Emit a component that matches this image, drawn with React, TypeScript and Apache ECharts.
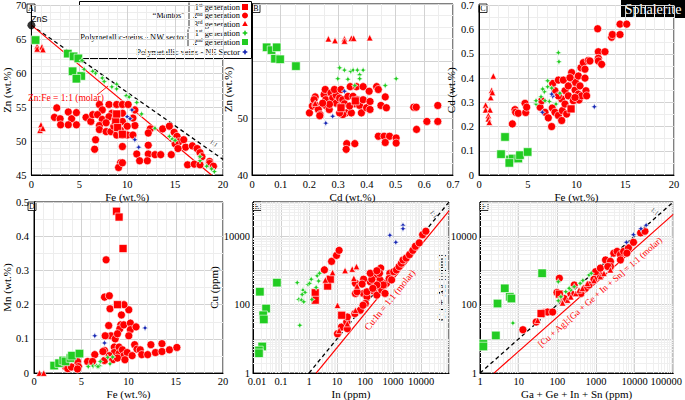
import React, { useEffect, useRef } from 'react';
import * as echarts from 'echarts';

// ---------- Panel A : Fe (wt.%) vs Zn (wt.%)
const A_m1 = [[8.8, 53.0], [9.0, 52.0], [9.5, 51.0], [8.9, 54.0]];
const A_m2 = [[2.4, 53.5], [2.65, 54.9], [3.0, 53.3], [3.05, 52.4], [3.85, 54.3], [4.2, 53.3], [3.85, 52.4], [4.7, 54.2], [4.7, 52.4], [5.7, 53.5], [6.2, 52.9], [6.4, 53.9], [7.1, 55.4], [8.1, 55.4], [8.9, 55.4], [9.5, 55.4], [10.1, 55.4], [7.4, 54.6], [6.9, 53.9], [7.4, 53.2], [7.1, 52.3], [7.1, 51.7], [7.8, 51.4], [8.3, 51.4], [8.9, 50.9], [9.5, 50.9], [10.0, 50.9], [10.6, 50.9], [10.8, 52.3], [10.6, 53.4], [10.8, 54.6], [9.5, 54.1], [8.4, 54.1], [8.1, 53.6], [8.8, 52.9], [9.5, 52.9], [10.0, 52.2], [9.3, 51.6], [8.6, 52.2], [7.8, 52.7], [6.7, 50.2], [6.6, 48.8], [9.5, 49.2], [11.0, 48.1], [11.3, 47.1], [12.2, 48.1], [12.1, 47.1], [12.9, 48.0], [12.2, 49.4], [12.4, 51.8], [12.2, 51.2], [13.7, 51.8], [14.4, 52.2], [13.5, 48.0], [14.9, 51.3], [15.2, 50.7], [15.4, 49.9], [15.0, 49.6], [15.9, 50.2], [16.1, 49.1], [15.3, 48.9], [14.6, 48.0], [16.8, 49.3], [17.3, 48.9], [17.6, 48.3], [17.8, 47.7], [16.3, 46.5], [17.0, 46.6], [17.6, 46.5], [18.6, 47.0], [18.6, 46.7], [19.0, 46.3], [9.3, 46.8], [9.1, 46.1], [9.5, 46.8]];
const A_m3 = [[0.6, 64.0], [1.1, 63.9], [1.2, 63.5], [0.6, 63.6], [1.0, 52.4], [0.9, 51.6], [1.2, 51.9]];
const A_nw1 = [[5.3, 61.9], [5.5, 60.6], [6.4, 60.3], [6.7, 60.0], [7.4, 59.3], [7.6, 58.8], [8.4, 58.0], [8.9, 58.4], [8.9, 57.7], [9.9, 56.7], [10.2, 56.5], [11.0, 55.7], [11.5, 54.0], [12.9, 51.9], [14.4, 50.7], [14.7, 50.3], [15.0, 50.1], [17.6, 47.1], [18.3, 46.3], [18.8, 45.9], [19.1, 45.5], [17.6, 47.7]];
const A_nw2 = [[0.44, 64.9], [3.8, 62.9], [4.4, 62.5], [4.9, 62.2], [4.3, 60.3], [5.2, 59.6], [4.7, 59.2]];
const A_ne = [[10.5, 54.6], [10.0, 53.6], [10.3, 53.3], [10.8, 50.2], [11.2, 49.1]];
const A_ZnS = [[0, 67.1]];
const A_ratioLine = [[0, 67.1], [18.8, 45]];
const A_oneToOne = [[0, 67.1], [20, 47.3]];

// ---------- Panel B : Cd (wt.%) vs Zn (wt.%)
const B_m1 = [[0.31, 51.8], [0.36, 53.0]];
const B_m2 = [[0.2, 50.9], [0.21, 52.1], [0.22, 53.7], [0.216, 53.2], [0.222, 52.2], [0.231, 51.5], [0.237, 50.6], [0.236, 50.4], [0.251, 54.1], [0.255, 55.0], [0.257, 53.2], [0.257, 52.2], [0.269, 51.5], [0.275, 54.4], [0.281, 53.5], [0.293, 54.0], [0.293, 52.6], [0.305, 53.5], [0.31, 52.1], [0.316, 53.2], [0.322, 52.5], [0.328, 50.9], [0.334, 53.8], [0.342, 55.5], [0.346, 50.9], [0.352, 53.8], [0.358, 52.5], [0.364, 55.5], [0.367, 53.2], [0.375, 52.2], [0.381, 50.9], [0.387, 55.5], [0.387, 53.2], [0.399, 51.8], [0.411, 51.5], [0.411, 52.9], [0.408, 54.7], [0.434, 55.5], [0.44, 55.0], [0.449, 52.2], [0.468, 51.8], [0.464, 53.7], [0.34, 52.1], [0.316, 50.6], [0.305, 50.9], [0.27, 52.4], [0.246, 52.6], [0.287, 55.0], [0.31, 55.0], [0.44, 46.8], [0.46, 46.8], [0.479, 46.8], [0.464, 45.7], [0.502, 46.5], [0.502, 45.6], [0.33, 45.5], [0.358, 45.5], [0.328, 44.5], [0.563, 51.9], [0.572, 51.9], [0.647, 52.2], [0.609, 49.4], [0.647, 49.4], [0.573, 48.0]];
const B_m3 = [[0.266, 63.9], [0.289, 63.6], [0.322, 63.9], [0.322, 63.5], [0.346, 64.0], [0.354, 64.0], [0.41, 64.1], [0.22, 52.6]];
const B_nw1 = [[0.305, 58.8], [0.322, 58.4], [0.344, 58.2], [0.352, 58.4], [0.367, 58.4], [0.387, 58.4], [0.375, 57.6], [0.299, 56.9], [0.334, 56.8], [0.375, 56.9], [0.358, 55.7], [0.464, 55.7], [0.502, 56.9]];
const B_nw2 = [[0.051, 62.4], [0.068, 61.9], [0.086, 62.4], [0.08, 60.4], [0.098, 60.3], [0.153, 59.1]];
const B_ne = [[0.322, 54.7], [0.281, 50.3], [0.257, 49.1]];

// ---------- Panel C : Fe (wt.%) vs Cd (wt.%)
const C_m1 = [[9.44, 0.273]];
const C_m2 = [[3.42, 0.211], [3.69, 0.27], [3.76, 0.259], [4.03, 0.255], [4.72, 0.296], [4.79, 0.258], [4.89, 0.28], [6.26, 0.28], [6.43, 0.307], [6.77, 0.259], [7.11, 0.236], [7.45, 0.2], [7.52, 0.277], [7.56, 0.378], [7.79, 0.259], [7.79, 0.348], [8.14, 0.246], [8.14, 0.392], [8.48, 0.314], [8.65, 0.392], [8.48, 0.225], [8.55, 0.266], [8.82, 0.293], [8.82, 0.348], [8.99, 0.252], [9.16, 0.368], [9.5, 0.423], [9.57, 0.396], [9.16, 0.327], [9.67, 0.307], [9.85, 0.351], [9.91, 0.382], [10.19, 0.409], [10.19, 0.334], [10.36, 0.368], [10.26, 0.31], [10.53, 0.327], [10.46, 0.443], [10.7, 0.464], [10.87, 0.437], [10.87, 0.4], [10.97, 0.348], [11.04, 0.327], [9.85, 0.32], [8.14, 0.327], [9.33, 0.402], [11.21, 0.473], [12.17, 0.604], [12.24, 0.509], [12.24, 0.482], [12.24, 0.471], [12.58, 0.457], [12.92, 0.509], [13.6, 0.569], [13.68, 0.58], [14.46, 0.58], [14.46, 0.623], [15.15, 0.623], [11.38, 0.471]];
const C_m3 = [[0.68, 0.289], [1.47, 0.409], [1.3, 0.35], [1.2, 0.32], [0.68, 0.269], [1.13, 0.269], [0.96, 0.246], [0.96, 0.232], [1.06, 0.218], [1.37, 0.341]];
const C_nw1 = [[5.85, 0.293], [5.85, 0.307], [6.36, 0.323], [6.7, 0.344], [7.04, 0.389], [6.53, 0.355], [7.04, 0.364], [7.21, 0.304], [6.77, 0.307], [8.14, 0.505], [8.2, 0.468], [8.3, 0.338], [7.9, 0.293], [7.45, 0.359]];
const C_nw2 = [[2.67, 0.157], [2.26, 0.086], [3.18, 0.064], [3.45, 0.068], [4.03, 0.068], [4.2, 0.082], [4.99, 0.095], [3.11, 0.05]];
const C_ne = [[7.56, 0.325], [6.5, 0.259], [7.45, 0.334], [11.83, 0.282]];

// ---------- Panel D : Fe (wt.%) vs Mn (wt.%)
const D_m1 = [[8.73, 0.473], [9.0, 0.456], [9.42, 0.364], [8.83, 0.2]];
const D_m2 = [[7.63, 0.331], [7.46, 0.222], [7.97, 0.226], [8.04, 0.188], [10.03, 0.185], [9.52, 0.2], [9.25, 0.17], [7.9, 0.139], [9.18, 0.141], [9.07, 0.129], [9.5, 0.141], [10.2, 0.146], [10.2, 0.127], [10.8, 0.135], [10.03, 0.109], [8.14, 0.109], [7.53, 0.109], [8.59, 0.1], [8.83, 0.115], [8.49, 0.076], [6.43, 0.054], [7.46, 0.066], [7.46, 0.037], [8.49, 0.06], [9.0, 0.076], [9.0, 0.057], [9.35, 0.068], [9.52, 0.051], [9.86, 0.06], [10.38, 0.051], [10.65, 0.083], [10.9, 0.07], [11.24, 0.068], [11.4, 0.054], [12.03, 0.054], [12.37, 0.083], [12.85, 0.06], [13.54, 0.086], [13.54, 0.063], [14.33, 0.068], [15.12, 0.075], [7.97, 0.051], [8.32, 0.039], [8.83, 0.044], [9.62, 0.039], [7.29, 0.063], [3.33, 0.019], [3.57, 0.013], [3.95, 0.018], [4.6, 0.034], [4.71, 0.019], [5.67, 0.034], [6.19, 0.034], [4.6, 0.012]];
const D_m3 = [[0.58, 0.0], [1.03, 0.0]];
const D_nw1 = [[5.74, 0.019], [6.25, 0.021], [6.6, 0.021], [6.94, 0.021], [7.01, 0.034], [7.8, 0.046], [8.04, 0.027], [8.32, 0.047], [6.77, 0.019]];
const D_nw2 = [[2.13, 0.022], [2.65, 0.029], [3.09, 0.037], [3.33, 0.034], [3.85, 0.044], [4.02, 0.051], [4.81, 0.057]];
const D_ne = [[6.43, 0.109], [7.46, 0.088], [11.75, 0.132]];

// ---------- Panel E : In (ppm) vs Cu (ppm), log-log
const E_m1 = [[1.67, 223], [4.64, 350], [5.76, 555], [1.67, 135], [14.7, 49]];
const E_m2 = [[3.55, 1040], [6.4, 1840], [9.6, 2750], [11.9, 3860], [10.4, 14.1], [14.4, 22.2], [23.4, 19.9], [22.2, 31.2], [23.4, 43.6], [45.6, 213], [43.4, 55], [68, 69], [89, 213], [154, 468], [250, 660], [200, 254], [265, 190], [345, 530], [117, 170], [103, 108], [85, 96], [117, 238], [52, 238], [345, 318], [395, 268], [365, 1170], [774, 825], [590, 420], [730, 580], [890, 530], [1060, 920], [1320, 1040], [1650, 1300], [1990, 1630], [2275, 2030], [2960, 2300], [3880, 2900], [5100, 3860], [6300, 5070], [8660, 6400], [11400, 11100], [14900, 14000], [450, 375], [520, 213], [265, 375], [190, 299], [175, 550], [45.6, 420], [89, 555], [79, 400], [154, 825], [330, 825], [265, 980]];
const E_m3 = [[3.84, 527], [6.95, 868], [10.4, 96], [19.4, 1000], [35, 1100], [40, 590], [49.6, 1300], [52, 350], [11.9, 17.7], [23.4, 27.9], [45.6, 68.8]];
const E_nw1 = [[0.38, 440], [0.43, 142], [0.61, 266], [0.72, 228], [0.54, 136], [0.65, 121], [0.92, 392], [1.05, 419], [1.27, 142], [1.96, 695], [2.37, 828], [2.2, 491], [1.8, 319], [0.57, 199], [1.2, 555], [0.47, 24.9]];
const E_nw2 = [[0.0714, 440], [0.0176, 239], [0.0294, 77], [0.0231, 49], [0.0243, 37], [0.0213, 6], [0.0163, 4.6], [0.0163, 3.8]];
const E_ne = [[774, 10700], [2275, 21000], [2275, 16600], [1260, 6640]];
const E_oneToOne = [[1, 1], [100000, 100000]];
const E_ratioLine = [[1.807, 1], [100000, 55340]];

// ---------- Panel F : Ga+Ge+In+Sn (ppm) vs Cu+Ag (ppm), log-log
const F_m1 = [[38, 55], [113, 203]];
const F_m2 = [[12.9, 18.5], [28.4, 31.2], [44.6, 58.6], [56, 61], [75.9, 61], [98, 228], [113, 590], [150, 151], [224, 213], [274, 375], [407, 213], [540, 300], [660, 375], [890, 555], [1300, 700], [1770, 2030], [2370, 1840], [2900, 3200], [3530, 3600], [4300, 2900], [5200, 3600], [6950, 4580], [9350, 6640], [14300, 12500], [18500, 14000], [980, 920], [1300, 1170], [2370, 1300], [4300, 2030], [6300, 3200], [2030, 1300]];
const F_m3 = [[31, 35], [124, 142], [137, 113], [184, 136], [224, 170], [300, 213], [365, 268], [447, 300], [600, 420], [890, 510], [1300, 660], [1610, 825], [2370, 1040]];
const F_nw1 = [[7.1, 29], [106, 130], [124, 170], [166, 239], [224, 268], [274, 335], [390, 420], [460, 510], [660, 740], [756, 825], [106, 469], [203, 300]];
const F_nw2 = [[1.22, 7.16], [1.22, 6], [2.57, 12.6], [2.84, 108], [4.37, 300], [5.9, 170], [6.5, 151], [40.5, 827]];
const F_ne = [[6150, 6640], [9350, 11100], [14600, 16600], [19900, 21000]];
const F_oneToOne = [[1, 1], [100000, 100000]];
const F_ratioLine = [[2.3, 1], [100000, 43500]];

// ---------- styling
const SERIF = 'Liberation Serif';
const RED = '#ff0000';
const GREEN = '#22cc22';
const BLUE = '#1a2ab4';
const STAR = 'path://M5,0L6.5,3.5L10,5L6.5,6.5L5,10L3.5,6.5L0,5L3.5,3.5Z';

const ST: Record<string, { symbol: string; size: number; color: string }> = {
  m1: { symbol: 'rect', size: 8, color: RED },
  m2: { symbol: 'circle', size: 8, color: RED },
  m3: { symbol: 'triangle', size: 6.5, color: RED },
  nw1: { symbol: STAR, size: 6.5, color: GREEN },
  nw2: { symbol: 'rect', size: 8.5, color: GREEN },
  ne: { symbol: STAR, size: 6.5, color: BLUE },
};

const grids = [
  { left: 27, top: 4, width: 196, height: 171 },
  { left: 252, top: 4, width: 201, height: 171 },
  { left: 479, top: 4, width: 195, height: 171 },
  { left: 28, top: 202, width: 195, height: 173 },
  { left: 253, top: 202, width: 196, height: 172 },
  { left: 480, top: 202, width: 195, height: 172 },
];

const labelStyle = { fontFamily: SERIF, fontSize: 10.5, color: '#000' };
const nameStyle = { fontFamily: SERIF, fontSize: 11, color: '#000' };

function linAxis(gi: number, min: number, max: number, interval: number, name: string, nameGap: number, minorN: number, margin: number, hideAbove?: number) {
  return {
    type: 'value', gridIndex: gi, min, max, interval,
    name, nameLocation: 'middle', nameGap, nameTextStyle: nameStyle,
    axisLine: { show: true, onZero: false, lineStyle: { color: '#000', width: 1 } },
    axisTick: { show: false },
    axisLabel: {
      ...labelStyle, margin,
      formatter: (v: number) => (hideAbove !== undefined && v > hideAbove ? '' : String(Number(v.toFixed(2)))),
    },
    splitLine: { show: true, lineStyle: { color: '#d2d2d2', width: 1 } },
    minorTick: { show: false, splitNumber: minorN },
    minorSplitLine: { show: true, lineStyle: { color: '#ededed', width: 1 } },
  };
}

function logLabel(hide: number[]) {
  return (v: number) => {
    const e = Math.round(Math.log10(v));
    if (hide.includes(e)) return '';
    const s = e < 0 ? Math.pow(10, e).toFixed(-e) : String(Math.round(Math.pow(10, e)));
    if (e === 5) return '{r|' + s + '}';
    if (e === -2) return '{l|' + s + '}';
    return s;
  };
}

function logAxis(gi: number, min: number, max: number, name: string, nameGap: number, hide: number[], margin: number) {
  return {
    type: 'log', logBase: 10, gridIndex: gi, min, max,
    name, nameLocation: 'middle', nameGap, nameTextStyle: nameStyle,
    axisLine: { show: true, onZero: false, lineStyle: { color: '#000', width: 1 } },
    axisTick: { show: false },
    axisLabel: {
      ...labelStyle, margin, formatter: logLabel(hide),
      rich: {
        r: { fontFamily: SERIF, fontSize: 10.5, color: '#000', padding: [0, 14, 0, 0] },
        l: { fontFamily: SERIF, fontSize: 10.5, color: '#000', padding: [0, 0, 0, 8] },
      },
    },
    splitLine: { show: true, lineStyle: { color: '#d2d2d2', width: 1 } },
  };
}

function minorLogValues(min: number, max: number) {
  const out: number[] = [];
  for (let e = Math.floor(Math.log10(min)); e < Math.log10(max); e++) {
    for (let k = 2; k <= 9; k++) {
      const v = k * Math.pow(10, e);
      if (v > min && v < max) out.push(v);
    }
  }
  return out;
}

function scat(gi: number, data: number[][], key: string, z: number) {
  const s = ST[key];
  return {
    type: 'scatter', xAxisIndex: gi, yAxisIndex: gi, data,
    symbol: s.symbol, symbolSize: s.size, z, silent: true,
    itemStyle: { color: s.color, borderColor: '#ffffff', borderWidth: 0.6, opacity: 1 },
  };
}

function panelSeries(gi: number, d: Record<string, number[][]>) {
  return [
    scat(gi, d.m2, 'm2', 3),
    scat(gi, d.m1, 'm1', 4),
    scat(gi, d.m3, 'm3', 4),
    scat(gi, d.nw2, 'nw2', 5),
    scat(gi, d.nw1, 'nw1', 5),
    scat(gi, d.ne, 'ne', 6),
  ];
}

function refLine(gi: number, data: number[][], color: string, dashed: boolean) {
  return {
    type: 'line', xAxisIndex: gi, yAxisIndex: gi, data, showSymbol: false, symbol: 'none',
    silent: true, z: 2, clip: true,
    lineStyle: { color, width: dashed ? 1.3 : 1.2, type: dashed ? [4, 3] : 'solid' },
  };
}

function logGridSeries(gi: number, xmin: number, xmax: number, ymin: number, ymax: number) {
  const xs = minorLogValues(xmin, xmax).map((v) => ({ xAxis: v }));
  const ys = minorLogValues(ymin, ymax).map((v) => ({ yAxis: v }));
  return {
    type: 'scatter', xAxisIndex: gi, yAxisIndex: gi, data: [], z: 1, silent: true,
    markLine: {
      z: 1, silent: true, symbol: ['none', 'none'], label: { show: false },
      lineStyle: { color: '#efefef', width: 1, type: 'solid' },
      emphasis: { disabled: true },
      data: [...xs, ...ys],
    },
  };
}

function panelLetter(x: number, y: number, t: string) {
  return {
    type: 'group', z: 50, children: [
      { type: 'rect', shape: { x, y, width: 8, height: 8.5 }, style: { fill: '#fff', stroke: '#000', lineWidth: 0.8 } },
      { type: 'text', x: x + 4, y: y + 4.6, style: { text: t, fill: '#000', font: '8px "Liberation Serif"', align: 'center', verticalAlign: 'middle' } },
    ],
  };
}

function starPts(cx: number, cy: number, r: number) {
  const i = r * 0.35;
  return [[cx, cy - r], [cx + i, cy - i], [cx + r, cy], [cx + i, cy + i], [cx, cy + r], [cx - i, cy + i], [cx - r, cy], [cx - i, cy - i]];
}

const LEG_FONT = '8.4px "Liberation Serif"';
const supRich = { s: { fontFamily: SERIF, fontSize: 5.5, fill: '#000', color: '#000', verticalAlign: 'top', padding: [0, 0, 4, 0] } };

function legText(x: number, y: number, text: string, align: string) {
  return { type: 'text', x, y, style: { text, fill: '#000', font: LEG_FONT, align, verticalAlign: 'middle', rich: supRich } };
}

function rotText(x: number, y: number, text: string, rot: number, color: string, size: number) {
  return { type: 'text', x, y, rotation: rot, z: 40, style: { text, fill: color, font: `${size}px "Liberation Serif"`, align: 'center', verticalAlign: 'middle' } };
}

export default function App() {
  const ref = useRef<HTMLDivElement>(null);
  useEffect(() => {
    if (!ref.current) return;
    const chart = echarts.init(ref.current, undefined, { renderer: 'svg' });
    const rows = [7, 15.5, 24, 33, 42, 52];
    const mx = 245;
    const option: any = {
      animation: false,
      backgroundColor: '#ffffff',
      textStyle: { fontFamily: SERIF },
      grid: grids.map((g) => ({ ...g, show: true, backgroundColor: '#ffffff', borderColor: '#000', borderWidth: 1, containLabel: false })),
      xAxis: [
        linAxis(0, 0, 20, 5, 'Fe (wt.%)', 16, 5, 4),
        linAxis(1, 0, 0.7, 0.1, 'Cd (wt.%)', 16, 2, 4),
        linAxis(2, 0, 20, 5, 'Fe (wt.%)', 16, 5, 4),
        linAxis(3, 0, 20, 5, 'Fe (wt.%)', 13, 5, 3),
        logAxis(4, 0.01, 100000, 'In (ppm)', 13, [5], 3),
        logAxis(5, 1, 100000, 'Ga + Ge + In + Sn (ppm)', 13, [], 3),
      ],
      yAxis: [
        linAxis(0, 45, 70, 5, 'Zn (wt.%)', 14, 5, 5),
        linAxis(1, 40, 70, 10, 'Zn (wt.%)', 13, 5, 4, 55),
        linAxis(2, 0, 0.7, 0.1, 'Cd (wt.%)', 12, 2, 5),
        linAxis(3, 0, 0.5, 0.1, 'Mn (wt.%)', 18, 2, 5),
        logAxis(4, 1, 100000, 'Cu (ppm)', 15, [1, 3, 5], 3),
        logAxis(5, 1, 100000, 'Cu + Ag (ppm)', 17, [1, 3, 5], 3),
      ],
      series: [
        logGridSeries(4, 0.01, 100000, 1, 100000),
        logGridSeries(5, 1, 100000, 1, 100000),
        refLine(0, A_oneToOne, '#000', true),
        refLine(0, A_ratioLine, RED, false),
        ...panelSeries(0, { m1: A_m1, m2: A_m2, m3: A_m3, nw1: A_nw1, nw2: A_nw2, ne: A_ne }),
        {
          type: 'scatter', xAxisIndex: 0, yAxisIndex: 0, data: A_ZnS, symbol: 'circle', symbolSize: 8,
          z: 8, silent: true, itemStyle: { color: '#000' },
        },
        ...panelSeries(1, { m1: B_m1, m2: B_m2, m3: B_m3, nw1: B_nw1, nw2: B_nw2, ne: B_ne }),
        ...panelSeries(2, { m1: C_m1, m2: C_m2, m3: C_m3, nw1: C_nw1, nw2: C_nw2, ne: C_ne }),
        ...panelSeries(3, { m1: D_m1, m2: D_m2, m3: D_m3, nw1: D_nw1, nw2: D_nw2, ne: D_ne }),
        refLine(4, E_oneToOne, '#000', true),
        refLine(4, E_ratioLine, RED, false),
        ...panelSeries(4, { m1: E_m1, m2: E_m2, m3: E_m3, nw1: E_nw1, nw2: E_nw2, ne: E_ne }),
        refLine(5, F_oneToOne, '#000', true),
        refLine(5, F_ratioLine, RED, false),
        ...panelSeries(5, { m1: F_m1, m2: F_m2, m3: F_m3, nw1: F_nw1, nw2: F_nw2, ne: F_ne }),
      ],
      graphic: {
        elements: [
          panelLetter(27, 4, 'A'),
          panelLetter(252, 4, 'B'),
          panelLetter(479, 4, 'C'),
          panelLetter(28, 202, 'D'),
          panelLetter(253, 202, 'E'),
          panelLetter(480, 202, 'F'),
          { type: 'text', x: 31, y: 19, z: 40, style: { text: 'ZnS', fill: '#000', font: '9px "Liberation Sans"', align: 'left', verticalAlign: 'middle' } },
          { type: 'text', x: 28, y: 98, z: 40, style: { text: 'Zn:Fe = 1:1 (molar)', fill: RED, font: '9.5px "Liberation Serif"', align: 'left', verticalAlign: 'middle' } },
          { type: 'line', z: 40, shape: { x1: 97, y1: 95, x2: 108, y2: 86 }, style: { stroke: RED, lineWidth: 0.9 } },
          rotText(214, 143, '1:1', -0.6, '#444', 6.5),
          rotText(434, 214, '1:1', -0.89, '#444', 6.5),
          rotText(655, 211, '1:1', -0.72, '#444', 6.5),
          rotText(390, 300, 'Cu:In = 1:1 (molar)', 0.89, RED, 9.5),
          rotText(600, 292, '[Cu + Ag]:[Ga + Ge + In + Sn] = 1:1 (molar)', 0.72, RED, 9),
          {
            type: 'group', z: 60, children: [
              { type: 'rect', shape: { x: 621, y: 0, width: 64, height: 18 }, style: { fill: '#000' } },
              { type: 'text', x: 653, y: 9.5, style: { text: 'Sphalerite', fill: '#fff', font: '14px "Liberation Serif"', align: 'center', verticalAlign: 'middle' } },
            ],
          },
          {
            type: 'group', z: 100, children: [
              { type: 'rect', shape: { x: 79.5, y: 1.5, width: 172, height: 57 }, style: { fill: '#fff', stroke: '#000', lineWidth: 1 } },
              legText(185, 15.5, '\u201CMantos\u201D', 'right'),
              { type: 'line', shape: { x1: 189, y1: 2.5, x2: 189, y2: 28.5 }, style: { stroke: '#000', lineWidth: 0.8 } },
              legText(186, 37.5, 'Polymetallic-veins - NW sector', 'right'),
              { type: 'line', shape: { x1: 188, y1: 29.5, x2: 188, y2: 46.5 }, style: { stroke: '#000', lineWidth: 0.8 } },
              legText(240, rows[0], '1{s|st} generation', 'right'),
              legText(240, rows[1], '2{s|nd} generation', 'right'),
              legText(240, rows[2], '3{s|rd} generation', 'right'),
              legText(240, rows[3], '1{s|st} generation', 'right'),
              legText(240, rows[4], '2{s|nd} generation', 'right'),
              legText(240, rows[5], 'Polymetallic veins - NE Sector', 'right'),
              { type: 'rect', shape: { x: mx - 3, y: rows[0] - 3, width: 6, height: 6 }, style: { fill: RED } },
              { type: 'circle', shape: { cx: mx, cy: rows[1], r: 3 }, style: { fill: RED } },
              { type: 'polygon', shape: { points: [[mx, rows[2] - 3], [mx + 2.8, rows[2] + 2], [mx - 2.8, rows[2] + 2]] }, style: { fill: RED } },
              { type: 'polygon', shape: { points: starPts(mx, rows[3], 3) }, style: { fill: GREEN } },
              { type: 'rect', shape: { x: mx - 3, y: rows[4] - 3, width: 6, height: 6 }, style: { fill: GREEN } },
              { type: 'polygon', shape: { points: starPts(mx, rows[5], 3) }, style: { fill: BLUE } },
            ],
          },
        ],
      },
    };
    chart.setOption(option);
    return () => chart.dispose();
  }, []);
  return <div ref={ref} style={{ position: 'fixed', left: 0, top: 0, width: 685, height: 400 }} />;
}
